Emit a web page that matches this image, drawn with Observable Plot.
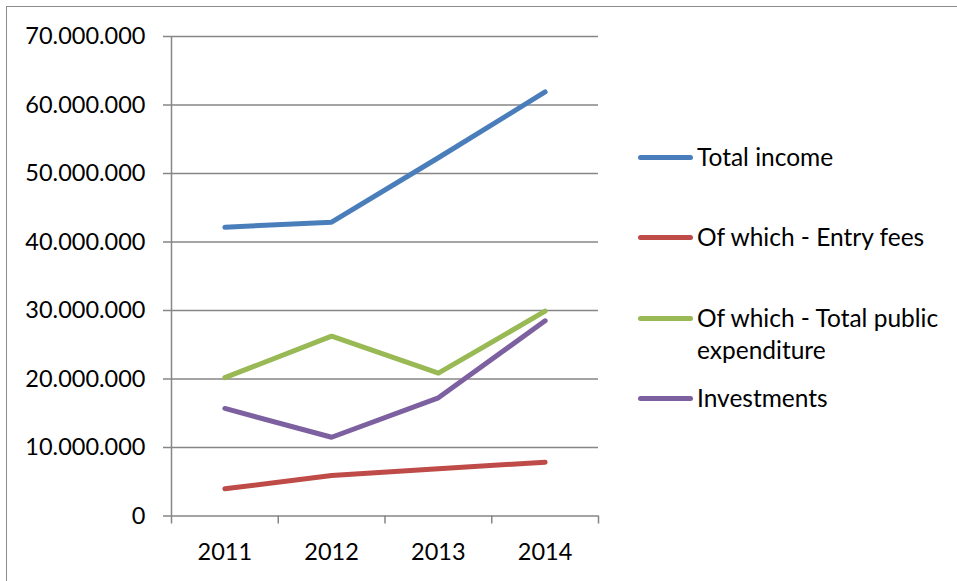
<!DOCTYPE html>
<html><head><meta charset="utf-8">
<script src="https://cdn.jsdelivr.net/npm/d3@7"></script>
<script src="https://cdn.jsdelivr.net/npm/@observablehq/plot@0.6"></script>
<style>
body{margin:0;width:957px;height:581px;overflow:hidden;background:#fff;font-family:Lato, sans-serif;position:relative}
#frame{position:absolute;left:6px;top:6px;width:1100px;height:1100px;border:1.5px solid #8c8c8c;box-sizing:border-box}
#chart{position:absolute;left:0;top:0}
.leg{position:absolute;left:638px;display:flex;align-items:flex-start;font-size:24.5px;line-height:32px;color:#000;white-space:nowrap}
.leg .sw{width:55px;height:5px;border-radius:3px;margin-top:13.5px;margin-right:4px;flex:none}
</style></head><body>
<div id="frame"></div><div id="chart"></div><div id="legend"></div>
<script>
const years = [2011, 2012, 2013, 2014];
const seriesNames = ["Total income", "Of which - Entry fees", "Of which - Total public expenditure", "Investments"];
const legendLabels = ["Total income", "Of which - Entry fees", "Of which - Total public<br>expenditure", "Investments"];
const totalIncome = [42150000, 42900000, 52300000, 61900000];
const entryFees = [3970000, 5900000, 6900000, 7850000];
const publicExpenditure = [20200000, 26250000, 20850000, 29900000];
const investments = [15700000, 11500000, 17250000, 28500000];
const colors = ["#4a7ebb", "#be4b48", "#98b954", "#7d60a0"];
const yTicks = [0, 10000000, 20000000, 30000000, 40000000, 50000000, 60000000, 70000000];

const seriesValues = [totalIncome, entryFees, publicExpenditure, investments];
const data = [];
seriesNames.forEach((s, i) => years.forEach((y, j) => data.push({series: s, year: y, value: seriesValues[i][j]})));
const boundaries = [years[0] - 0.5, ...years.map(y => y + 0.5)];

const fmt = d3.formatLocale({decimal: ",", thousands: ".", grouping: [3], currency: ["", ""]}).format(",d");

const chart = Plot.plot({
  width: 957, height: 581,
  marginLeft: 171, marginRight: 359, marginTop: 36, marginBottom: 65.5,
  style: {fontFamily: "Lato, sans-serif", color: "#000", background: "transparent"},
  x: {type: "linear", domain: [boundaries[0], boundaries[boundaries.length - 1]], axis: null},
  y: {domain: [0, 70000000], axis: null},
  color: {domain: seriesNames, range: colors},
  marks: [
    Plot.gridY(yTicks, {stroke: "#868686", strokeOpacity: 1, strokeWidth: 1.5}),
    Plot.axisY(yTicks, {label: null, tickSize: 8, tickPadding: 18, tickFormat: fmt, fontSize: 23.5, stroke: "#868686", strokeWidth: 1.5, strokeOpacity: 1}),
    Plot.axisX(boundaries, {label: null, tickSize: 8, tickFormat: () => "", stroke: "#868686", strokeWidth: 1.5, strokeOpacity: 1}),
    Plot.axisX(years, {label: null, tickSize: 0, tickPadding: 27, tickFormat: d => String(d), fontSize: 23.5}),
    Plot.ruleX([boundaries[0]], {stroke: "#868686", strokeWidth: 1.5}),
    Plot.line(data, {x: "year", y: "value", z: "series", stroke: "series", strokeWidth: 5, strokeLinecap: "round", strokeLinejoin: "round"})
  ]
});
document.getElementById("chart").appendChild(chart);

const legendY = [157, 237, 318, 398];
const legend = document.getElementById("legend");
seriesNames.forEach((s, i) => {
  const d = document.createElement("div");
  d.className = "leg";
  d.style.top = (legendY[i] - 16) + "px";
  d.innerHTML = `<span class="sw" style="background:${colors[i]}"></span><span>${legendLabels[i]}</span>`;
  legend.appendChild(d);
});
</script>
</body></html>
